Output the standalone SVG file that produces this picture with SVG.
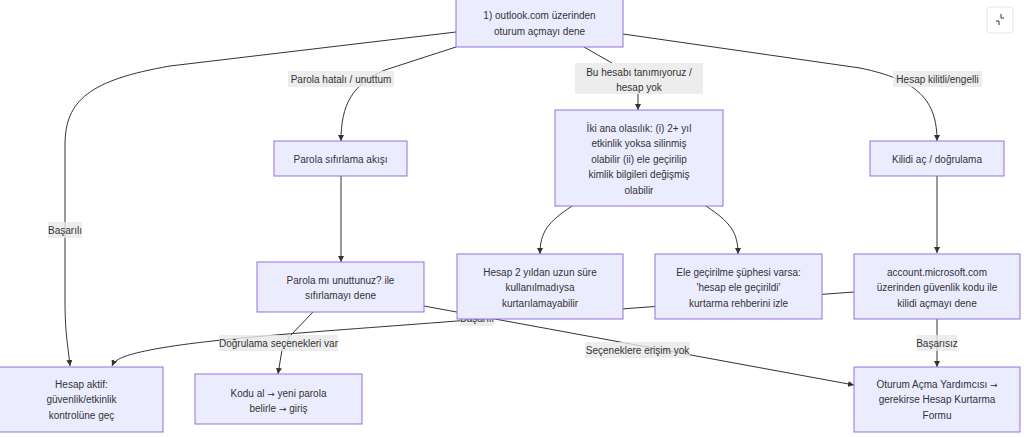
<svg xmlns="http://www.w3.org/2000/svg" width="1024" height="437" viewBox="0 0 1024 437">
<defs>
<marker id="arrow" viewBox="0 0 10 10" refX="10" refY="5" markerUnits="userSpaceOnUse" markerWidth="6" markerHeight="6" orient="auto">
<path d="M0,0 L10,5 L0,10 z" fill="#333"/>
</marker>
<style>
.node rect{fill:#ECECFF;stroke:#9370DB;stroke-width:1}
.node text,.lbl text{font-family:"Liberation Sans",Arial,sans-serif;font-size:10px;fill:#333;text-anchor:middle}
.ar{font-family:"DejaVu Sans",sans-serif;font-size:9px}
.edge{fill:none;stroke:#333;stroke-width:1}
.lbl rect{fill:#e8e8e8;fill-opacity:0.8}
</style>
</defs>
<rect x="0" y="0" width="1024" height="437" fill="#ffffff"/>
<g id="connectors">
<path class="edge" d="M456,32 L170,66 C90,80 65,100 65,145 L65,300 C65,335 68,345 70,366" marker-end="url(#arrow)"/>
<path class="edge" d="M456,47 L385,70 C352,84 341,105 341,141" marker-end="url(#arrow)"/>
<path class="edge" d="M584,47 L612,63 M638,94 L638,110" marker-end="url(#arrow)"/>
<path class="edge" d="M623,34 L860,68 C918,80 937,100 937,141" marker-end="url(#arrow)"/>
<path class="edge" d="M341,176 L341,262" marker-end="url(#arrow)"/>
<path class="edge" d="M572,206 C548,222 540,232 540,254" marker-end="url(#arrow)"/>
<path class="edge" d="M706,206 C730,222 738,232 738,254" marker-end="url(#arrow)"/>
<path class="edge" d="M937,176 L937,253" marker-end="url(#arrow)"/>
<path class="edge" d="M313,312 L290,336 L282,350 L278,374" marker-end="url(#arrow)"/>
<path class="edge" d="M424,306 L854,385" marker-end="url(#arrow)"/>
<path class="edge" d="M854,292 L470,320 C330,331 210,338 150,350 C125,355 115,359 112,366" marker-end="url(#arrow)"/>
<path class="edge" d="M937,319 L937,367" marker-end="url(#arrow)"/>
<g class="lbl"><rect x="48" y="222" width="34" height="16"/><text x="65" y="233.5">Başarılı</text></g>
<g class="lbl"><rect x="288" y="71" width="106" height="16"/><text x="341" y="82.5">Parola hatalı / unuttum</text></g>
<g class="lbl"><rect x="575" y="63" width="128" height="31"/><text x="639" y="75.5">Bu hesabı tanımıyoruz /</text><text x="639" y="90.5">hesap yok</text></g>
<g class="lbl"><rect x="893" y="71" width="89" height="16"/><text x="937.5" y="82.5">Hesap kilitli/engelli</text></g>
<g class="lbl"><rect x="219" y="335" width="119" height="16"/><text x="278.5" y="346.5">Doğrulama seçenekleri var</text></g>
<g class="lbl"><rect x="585" y="342" width="105" height="16"/><text x="637.5" y="353.5">Seçeneklere erişim yok</text></g>
<g class="lbl"><rect x="460" y="310" width="34" height="16"/><text x="477" y="321.5">Başarılı</text></g>
<g class="lbl"><rect x="917" y="335" width="40" height="16"/><text x="937" y="346.5">Başarısız</text></g>
</g>
<g id="n-start" class="node"><rect x="456" y="-4" width="167" height="51"/><text x="539.5" y="18.5">1) outlook.com üzerinden</text><text x="539.5" y="34.5">oturum açmayı dene</text></g>
<g id="n-reset" class="node"><rect x="274" y="141" width="133" height="35"/><text x="340.5" y="162.5">Parola sıfırlama akışı</text></g>
<g id="n-two" class="node"><rect x="555" y="110" width="168" height="96"/><text x="639" y="131.5">İki ana olasılık: (i) 2+ yıl</text><text x="639" y="147">etkinlik yoksa silinmiş</text><text x="639" y="162.5">olabilir (ii) ele geçirilip</text><text x="639" y="178">kimlik bilgileri değişmiş</text><text x="639" y="193.5">olabilir</text></g>
<g id="n-unlock" class="node"><rect x="870" y="141" width="134" height="35"/><text x="937" y="162.5">Kilidi aç / doğrulama</text></g>
<g id="n-forgot" class="node"><rect x="257" y="262" width="167" height="50"/><text x="340.5" y="283.5">Parola mı unuttunuz? ile</text><text x="340.5" y="299">sıfırlamayı dene</text></g>
<g id="n-old" class="node"><rect x="457" y="254" width="166" height="65"/><text x="540" y="275.5">Hesap 2 yıldan uzun süre</text><text x="540" y="291">kullanılmadıysa</text><text x="540" y="306.5">kurtarılamayabilir</text></g>
<g id="n-hacked" class="node"><rect x="655" y="254" width="167" height="65"/><text x="738.5" y="275.5">Ele geçirilme şüphesi varsa:</text><text x="738.5" y="291">'hesap ele geçirildi'</text><text x="738.5" y="306.5">kurtarma rehberini izle</text></g>
<g id="n-account" class="node"><rect x="854" y="254" width="166" height="65"/><text x="937" y="275.5">account.microsoft.com</text><text x="937" y="291">üzerinden güvenlik kodu ile</text><text x="937" y="306.5">kilidi açmayı dene</text></g>
<g id="n-active" class="node"><rect x="-1" y="367" width="164" height="65"/><text x="81.5" y="387.5">Hesap aktif:</text><text x="81.5" y="403">güvenlik/etkinlik</text><text x="81.5" y="418.5">kontrolüne geç</text></g>
<g id="n-code" class="node"><rect x="195" y="374" width="167" height="50"/><text x="278.5" y="396.5">Kodu al <tspan class="ar">→</tspan> yeni parola</text><text x="278.5" y="412">belirle <tspan class="ar">→</tspan> giriş</text></g>
<g id="n-helper" class="node"><rect x="854" y="367" width="166" height="65"/><text x="937" y="387.5">Oturum Açma Yardımcısı <tspan class="ar">→</tspan></text><text x="937" y="403">gerekirse Hesap Kurtarma</text><text x="937" y="418.5">Formu</text></g>
<g id="icon">
<rect x="987" y="7" width="26" height="26" rx="4" fill="#ffffff" stroke="#e6e6e6"/>
<path d="M1001,14 L1001,18 L1004,18 M996,21 L999,21 L999,25" fill="none" stroke="#333" stroke-width="1"/>
</g>
</svg>
